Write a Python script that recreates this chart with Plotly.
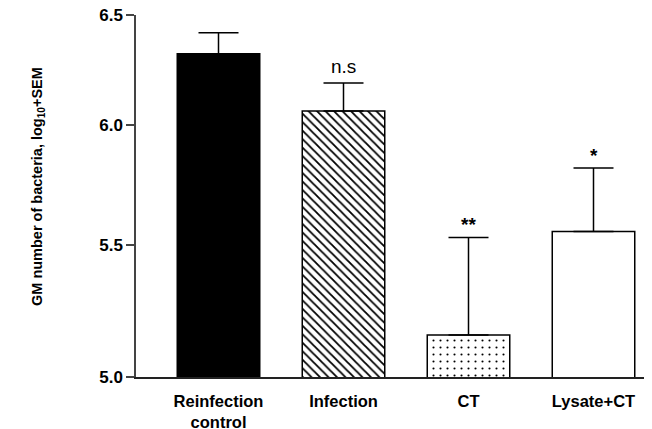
import math
import plotly.graph_objects as go

categories = ["Reinfection<br>control", "Infection", "CT", "Lysate+CT"]
means = [6.32, 6.063, 5.155, 5.556]
sem = [0.097, 0.124, 0.377, 0.262]
signif = ["", "n.s", "**", "*"]
y_ticks = [5.0, 5.5, 6.0, 6.5]
y_tick_labels = ["5.0", "5.5", "6.0", "6.5"]

fill_colors = ["black", "white", "white", "white"]
patterns = ["", "\\", ".", ""]
pattern_sizes = [6, 6, 7, 6]
pattern_solidity = [0.3, 0.3, 0.07, 0.3]

fig = go.Figure()
for i, cat in enumerate(categories):
    marker = dict(color=fill_colors[i], line=dict(color="black", width=1.5))
    if patterns[i]:
        marker["pattern"] = dict(shape=patterns[i], fgcolor="black", bgcolor="white",
                                 fgopacity=1, size=pattern_sizes[i],
                                 solidity=pattern_solidity[i], fillmode="overlay")
    fig.add_trace(go.Bar(
        x=[i], y=[means[i]], width=0.66,
        marker=marker,
        error_y=dict(type="data", array=[sem[i]], arrayminus=[0], symmetric=False,
                     thickness=1.5, width=20, color="black"),
        showlegend=False,
    ))

font_bold = "Liberation Sans"
# page has an 8px body margin; figure drawn at (8, 8)
W, H = 644, 421
L, R, T, B = 128, 8, 7, 52
pw, ph = W - L - R, H - T - B

annotations = []
sizes = {"n.s": 19, "**": 19, "*": 19}
shifts = {"n.s": 4, "**": 0, "*": 0}
bold = {"n.s": False, "**": True, "*": True}
for i, s in enumerate(signif):
    if not s:
        continue
    annotations.append(dict(
        x=i, y=math.log10(means[i] + sem[i]), xref="x", yref="y",
        text=f"<b>{s}</b>" if bold[s] else s, showarrow=False, yanchor="bottom", yshift=shifts[s],
        font=dict(family="Liberation Sans", size=sizes[s], color="black"),
    ))
annotations.append(dict(
    x=(19 - L) / pw, y=1 - (179 - T) / ph, xref="paper", yref="paper",
    text="<b>GM number of bacteria, log<sub>10</sub>+SEM</b>",
    showarrow=False, textangle=-90,
    font=dict(family=font_bold, size=14.5, color="black"),
))

fig.update_layout(
    width=W, height=H,
    margin=dict(l=L, r=R, t=T, b=B, pad=0, autoexpand=False),
    plot_bgcolor="white", paper_bgcolor="white",
    annotations=annotations,
    barmode="overlay",
)
fig.update_xaxes(
    range=[-0.66, 3.404], automargin=False,
    tickvals=list(range(len(categories))), ticktext=[f"<b>{c}</b>" for c in categories],
    showline=True, linecolor="#222", linewidth=1.5, ticks="",
    showgrid=False, zeroline=False,
    tickfont=dict(family=font_bold, size=16.5, color="black"),
    ticklabelstandoff=8, ticklabeloverflow="allow",
)
fig.update_yaxes(
    type="log", automargin=False,
    range=[math.log10(5.0), math.log10(6.5)],
    tickvals=y_ticks, ticktext=[f"<b>{t}</b>" for t in y_tick_labels],
    showline=True, linecolor="#444", linewidth=1.5,
    ticks="outside", ticklen=8, tickwidth=1.5, tickcolor="#444",
    showgrid=False, zeroline=False,
    tickfont=dict(family=font_bold, size=17, color="black"),
    ticklabeloverflow="allow",
)

fig.write_html("out.html")
